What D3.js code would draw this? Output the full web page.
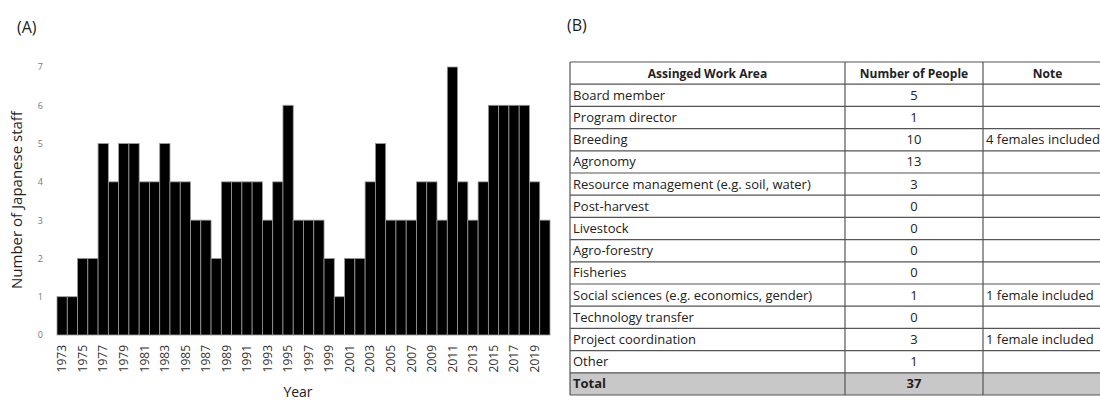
<!DOCTYPE html>
<html>
<head>
<meta charset="utf-8">
<script src="https://cdn.jsdelivr.net/npm/d3@7"></script>
<style>
  body { margin: 0; background: #fff; }
  svg { display: block; font-family: "Open Sans", Lato, sans-serif; }
</style>
</head>
<body>
<div id="chart"></div>
<script>
// Panel A: Japanese staff per year
const years = d3.range(1973, 2021);
const staff = [1, 1, 2, 2, 5, 4, 5, 5, 4, 4, 5, 4, 4, 3, 3, 2, 4, 4, 4, 4, 3, 4, 6, 3,
               3, 3, 2, 1, 2, 2, 4, 5, 3, 3, 3, 4, 4, 3, 7, 4, 3, 4, 6, 6, 6, 6, 4, 3];
const yTicks = [0, 1, 2, 3, 4, 5, 6, 7];

// Panel B: table
const headers = ["Assinged Work Area", "Number of People", "Note"];
const areas = ["Board member", "Program director", "Breeding", "Agronomy",
  "Resource management (e.g. soil, water)", "Post-harvest", "Livestock", "Agro-forestry",
  "Fisheries", "Social sciences (e.g. economics, gender)", "Technology transfer",
  "Project coordination", "Other"];
const people = ["5", "1", "10", "13", "3", "0", "0", "0", "0", "1", "0", "3", "1"];
const notes = ["", "", "4 females included", "", "", "", "", "", "",
  "1 female included", "", "1 female included", ""];
const total = ["Total", "37", ""];

const width = 1100, height = 400;
const svg = d3.select("#chart").append("svg")
  .attr("width", width)
  .attr("height", height);

// ---- panel A ----
svg.append("text").attr("x", 17).attr("y", 33)
  .attr("font-size", 16).attr("fill", "#222").text("(A)");

let x = d3.scaleBand().domain(years).range([57, 550]).padding(0);
let y = d3.scaleLinear().domain([0, 7]).range([335, 67]);

svg.append("g")
  .selectAll("rect")
  .data(years)
  .join("rect")
  .attr("x", d => x(d))
  .attr("y", (d, i) => y(staff[i]))
  .attr("width", x.bandwidth())
  .attr("height", (d, i) => y(0) - y(staff[i]))
  .attr("fill", "#000")
  .attr("stroke", "#9a9a9a")
  .attr("stroke-width", 0.8);

let yAxis = svg.append("g")
  .attr("transform", "translate(47,0)")
  .call(d3.axisLeft(y).tickValues(yTicks).tickFormat(d3.format("d")).tickSize(0).tickPadding(4));
yAxis.select(".domain").remove();
yAxis.selectAll("text").attr("fill", "#777").attr("font-size", 9)
  .attr("font-family", "'Open Sans', sans-serif");

let xAxis = svg.append("g")
  .attr("transform", "translate(0,335)")
  .call(d3.axisBottom(x).tickValues(years.filter(d => (d - 1973) % 2 === 0)).tickSize(0));
xAxis.select(".domain").remove();
xAxis.selectAll("text")
  .attr("font-size", 12)
  .attr("fill", "#333")
  .attr("font-family", "'Open Sans', sans-serif")
  .attr("transform", "rotate(-90)")
  .attr("text-anchor", "end")
  .attr("dx", "-10")
  .attr("dy", "0.35em")
  .attr("x", 0).attr("y", 0);

svg.append("text")
  .attr("transform", "translate(22,200) rotate(-90)")
  .attr("text-anchor", "middle")
  .attr("font-size", 15).attr("fill", "#222")
  .text("Number of Japanese staff");

svg.append("text").attr("x", 298).attr("y", 397)
  .attr("text-anchor", "middle")
  .attr("font-size", 14).attr("fill", "#222").text("Year");

// ---- panel B ----
svg.append("text").attr("x", 567).attr("y", 31)
  .attr("font-size", 16).attr("fill", "#222").text("(B)");

const colX = [570, 845, 983, 1112];
const rows = [headers].concat(areas.map((a, i) => [a, people[i], notes[i]]), [total]);
const rowH = 22.2, tableTop = 62;

let table = svg.append("g");
rows.forEach((r, i) => {
  let ry = tableTop + i * rowH;
  let isHead = i === 0, isTotal = i === rows.length - 1;
  if (isTotal) {
    table.append("rect").attr("x", colX[0]).attr("y", ry)
      .attr("width", colX[3] - colX[0]).attr("height", rowH)
      .attr("fill", "#c8c8c8");
  }
  r.forEach((t, j) => {
    let tx, anchor;
    if (isHead || j === 1) { tx = (colX[j] + colX[j + 1]) / 2; anchor = "middle"; }
    else { tx = colX[j] + 3; anchor = "start"; }
    table.append("text")
      .attr("x", tx).attr("y", ry + rowH / 2 + 4.5)
      .attr("text-anchor", anchor)
      .attr("font-size", isHead ? 12 : 13)
      .attr("font-weight", (isHead || isTotal) ? "bold" : "normal")
      .attr("fill", "#222")
      .text(t);
  });
});

// grid lines
d3.range(rows.length + 1).forEach(i => {
  table.append("line")
    .attr("x1", colX[0]).attr("x2", colX[3])
    .attr("y1", tableTop + i * rowH).attr("y2", tableTop + i * rowH)
    .attr("stroke", "#555").attr("stroke-width", 1.2);
});
colX.forEach(cx => {
  table.append("line")
    .attr("x1", cx).attr("x2", cx)
    .attr("y1", tableTop).attr("y2", tableTop + rows.length * rowH)
    .attr("stroke", "#555").attr("stroke-width", 1.2);
});
</script>
</body>
</html>
